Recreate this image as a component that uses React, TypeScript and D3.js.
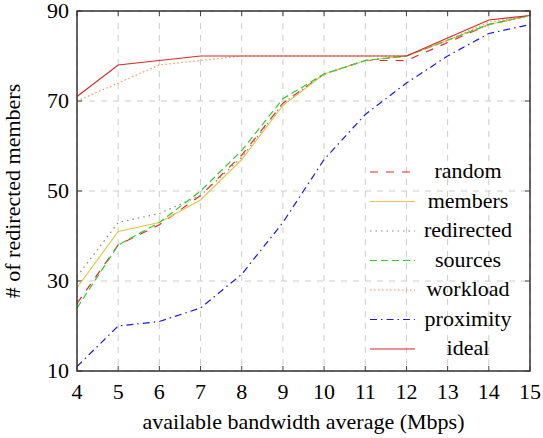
import React, { useEffect, useRef } from "react";
import * as d3 from "d3";

// x values (available bandwidth average, Mbps)
const bandwidth = [4, 5, 6, 7, 8, 9, 10, 11, 12, 13, 14, 15];

const random = [25, 38, 42.5, 49, 58, 69.5, 76, 79, 79, 83, 87, 89];
const members = [28.5, 41, 43, 48, 57, 69, 76, 79, 80, 83.5, 87, 89];
const redirected = [31, 43, 45, 49, 57.5, 69.5, 76, 79, 80, 83.5, 87, 89];
const sources = [24, 38, 43, 50, 59, 70.5, 76, 79, 80, 83.5, 87, 89];
const workload = [70, 74, 78, 79, 80, 80, 80, 80, 80, 83.5, 87.5, 89];
const proximity = [11, 20, 21, 24, 31.5, 43, 57, 67, 74, 80, 85, 87];
const ideal = [71, 78, 79, 80, 80, 80, 80, 80, 80, 84, 88, 89];

const yTicks = [10, 30, 50, 70, 90];

const seriesNames = ["random", "members", "redirected", "sources", "workload", "proximity", "ideal"];
const seriesValues = [random, members, redirected, sources, workload, proximity, ideal];
const seriesColors = ["#e8262a", "#e6c54a", "#888888", "#2fcc2f", "#f0955a", "#1a1ad8", "#d42a2a"];
const seriesDash = ["8,8", "", "1.5,4", "7,4", "1.5,2.5", "7,4,1.5,4", ""];

export default function App() {
  const ref = useRef<SVGSVGElement>(null);

  useEffect(() => {
    const svg = d3.select(ref.current);
    svg.selectAll("*").remove();

    const margin = { top: 11, right: 13, bottom: 67, left: 77 };
    const width = 543 - margin.left - margin.right;
    const height = 438 - margin.top - margin.bottom;

    const g = svg.append("g")
      .attr("transform", "translate(" + margin.left + "," + margin.top + ")");

    const x = d3.scaleLinear().domain([4, 15]).range([0, width]);
    const y = d3.scaleLinear().domain([10, 90]).range([height, 0]);

    // grid
    g.append("g").selectAll("line")
      .data(bandwidth)
      .enter().append("line")
      .attr("x1", d => x(d)).attr("x2", d => x(d))
      .attr("y1", 0).attr("y2", height)
      .attr("stroke", "#cccccc").attr("stroke-width", 1)
      .attr("stroke-dasharray", "6,6");
    g.append("g").selectAll("line")
      .data(yTicks)
      .enter().append("line")
      .attr("x1", 0).attr("x2", width)
      .attr("y1", d => y(d)).attr("y2", d => y(d))
      .attr("stroke", "#cccccc").attr("stroke-width", 1)
      .attr("stroke-dasharray", "6,6");

    // tick marks (inward, both sides)
    const tickLen = 5;
    bandwidth.forEach(v => {
      g.append("line").attr("x1", x(v)).attr("x2", x(v)).attr("y1", height).attr("y2", height - tickLen)
        .attr("stroke", "#444").attr("stroke-width", 1);
      g.append("line").attr("x1", x(v)).attr("x2", x(v)).attr("y1", 0).attr("y2", tickLen)
        .attr("stroke", "#444").attr("stroke-width", 1);
    });
    yTicks.forEach(v => {
      g.append("line").attr("x1", 0).attr("x2", tickLen).attr("y1", y(v)).attr("y2", y(v))
        .attr("stroke", "#444").attr("stroke-width", 1);
      g.append("line").attr("x1", width).attr("x2", width - tickLen).attr("y1", y(v)).attr("y2", y(v))
        .attr("stroke", "#444").attr("stroke-width", 1);
    });

    // lines
    const line = d3.line<number>()
      .x((d, i) => x(bandwidth[i]))
      .y(d => y(d));

    seriesValues.forEach((vals, i) => {
      g.append("path")
        .datum(vals)
        .attr("d", line)
        .attr("fill", "none")
        .attr("stroke", seriesColors[i])
        .attr("stroke-width", 1.2)
        .attr("stroke-dasharray", seriesDash[i] || null);
    });

    // frame
    g.append("rect")
      .attr("width", width).attr("height", height)
      .attr("fill", "none").attr("stroke", "#333").attr("stroke-width", 1.5);

    // tick labels
    const font = "Liberation Serif, DejaVu Serif, serif";
    const fs = "22px";
    g.append("g").selectAll("text")
      .data(bandwidth)
      .enter().append("text")
      .attr("x", d => x(d)).attr("y", height + 28)
      .attr("text-anchor", "middle")
      .attr("font-family", font).attr("font-size", fs)
      .text(d => d);
    g.append("g").selectAll("text")
      .data(yTicks)
      .enter().append("text")
      .attr("x", -8).attr("y", d => y(d) + 7)
      .attr("text-anchor", "end")
      .attr("font-family", font).attr("font-size", fs)
      .text(d => d);

    // axis labels
    g.append("text")
      .attr("x", width / 2).attr("y", height + 58)
      .attr("text-anchor", "middle")
      .attr("font-family", font).attr("font-size", fs)
      .text("available bandwidth average (Mbps)");
    g.append("text")
      .attr("transform", "rotate(-90)")
      .attr("x", -height / 2).attr("y", -57)
      .attr("text-anchor", "middle")
      .attr("font-family", font).attr("font-size", fs)
      .text("# of redirected members");

    // legend
    const legend = g.append("g").attr("transform", "translate(" + (370 - margin.left) + "," + (172 - margin.top) + ")");
    seriesNames.forEach((name, i) => {
      const row = legend.append("g").attr("transform", "translate(0," + i * 29.5 + ")");
      row.append("line")
        .attr("x1", 0).attr("x2", 45).attr("y1", 0).attr("y2", 0)
        .attr("stroke", seriesColors[i]).attr("stroke-width", 1.2)
        .attr("stroke-dasharray", seriesDash[i] || null);
      row.append("text")
        .attr("x", 98).attr("y", 6)
        .attr("text-anchor", "middle")
        .attr("font-family", font).attr("font-size", fs)
        .text(name);
    });
  }, []);

  return (
    <svg ref={ref} width={543} height={438} style={{ position: "absolute", left: 0, top: 0, background: "#fff" }}></svg>
  );
}
